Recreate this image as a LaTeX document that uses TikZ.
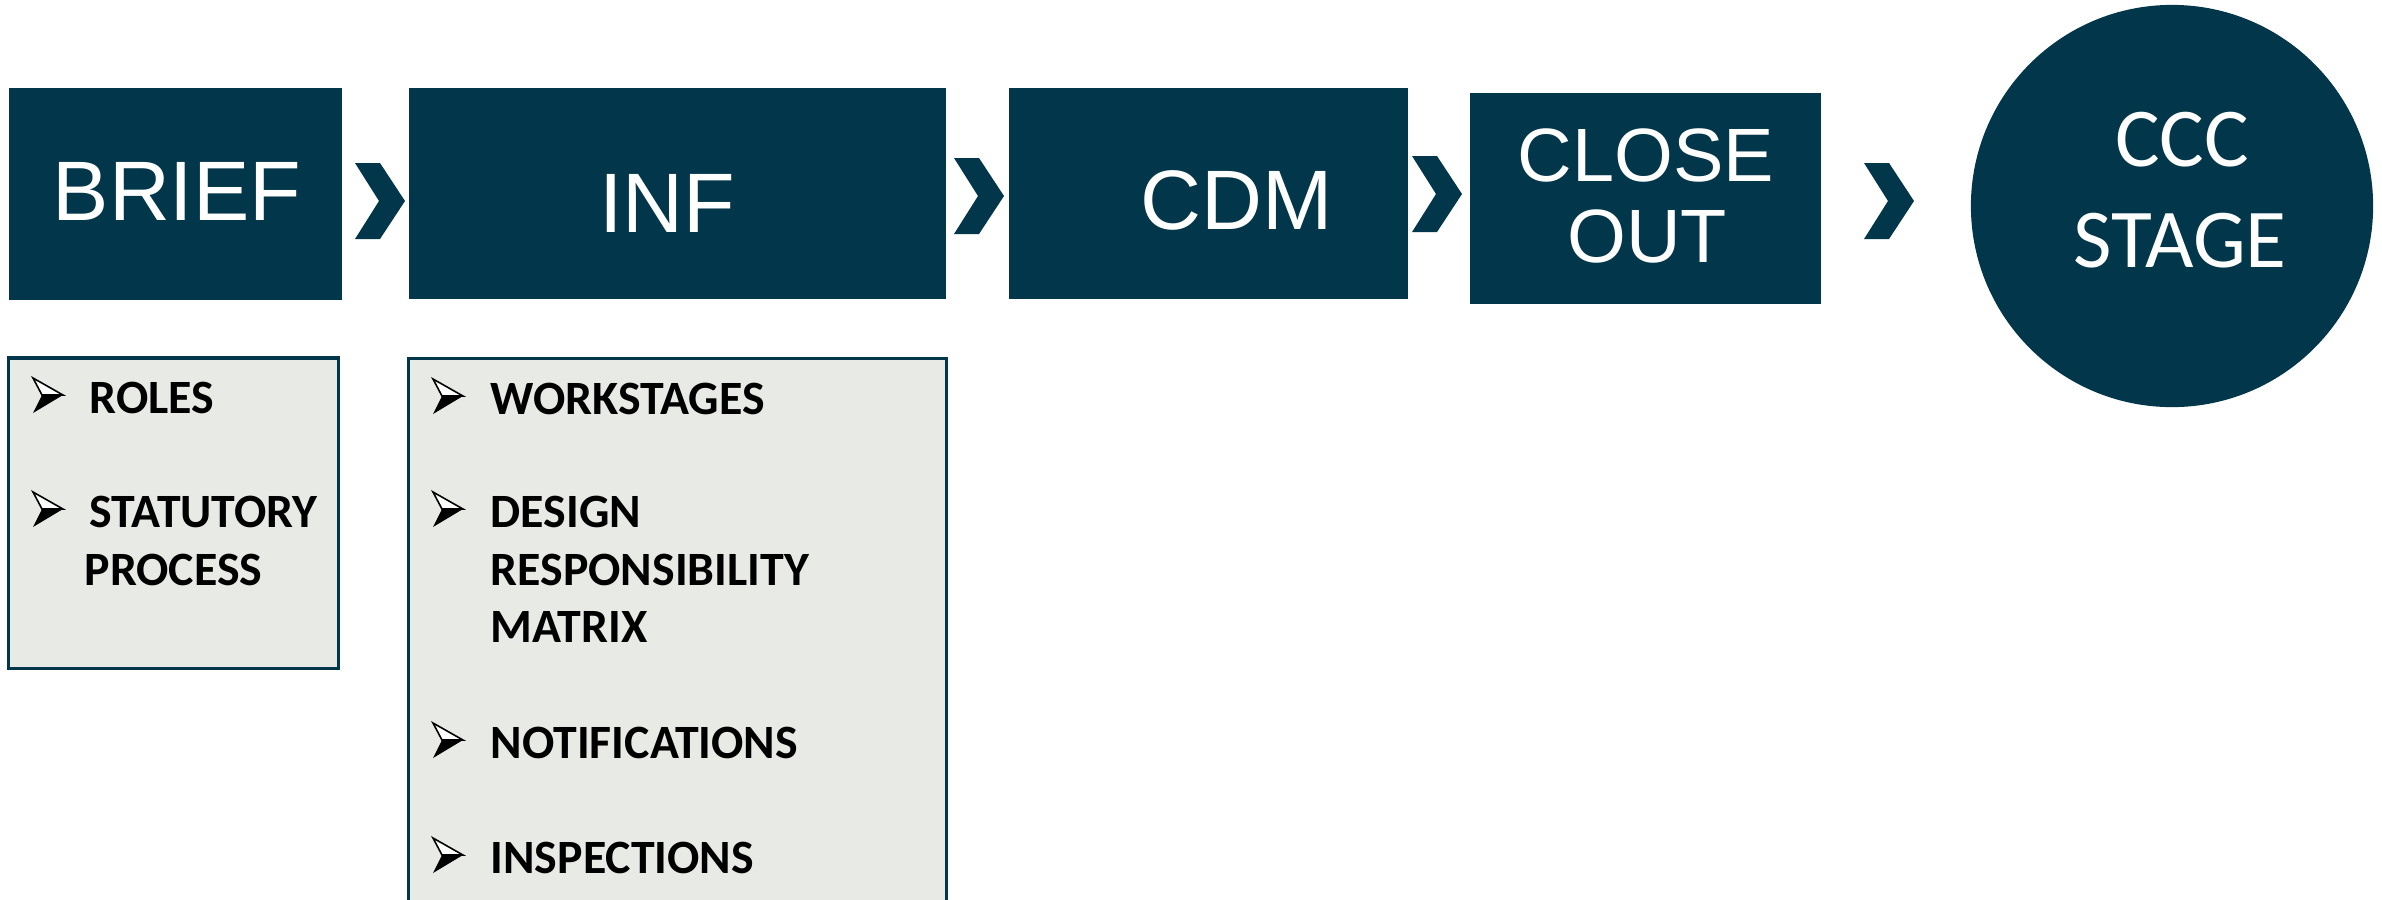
\documentclass[tikz,border=0pt]{standalone}
\usepackage{fontspec}
\newfontfamily\arialf{Liberation Sans}
\newfontfamily\calibf{Carlito}
\definecolor{teal}{HTML}{02364A}
\definecolor{panel}{HTML}{E8EAE6}
\tikzset{
  stagebox/.style={draw=none, fill=teal, inner sep=0pt, rectangle},
  stagetext/.style={text=white, inner sep=0pt, anchor=base, font=\arialf\fontsize{24}{28}\selectfont},
  closetext/.style={text=white, inner sep=0pt, anchor=base, font=\arialf\fontsize{21.5}{26}\selectfont},
  ccctext/.style={text=white, inner sep=0pt, anchor=base, font=\calibf\fontsize{23.8}{28}\selectfont},
  panelbox/.style={draw=teal, line width=0.9pt, fill=panel, inner sep=0pt, rectangle},
  itemtext/.style={text=black, inner sep=0pt, anchor=base west, font=\calibf\bfseries\fontsize{13.6}{16}\selectfont},
  chevfill/.style={fill=teal, draw=none},
  pics/chevron/.style={code={
    \fill[chevfill] (0,0) -- (25,0) -- (50,38) -- (25,76) -- (0,76) -- (24,38) -- cycle;
  }},
  pics/bulletarrow/.style={code={
    \fill[black, line join=miter] (9,-18) -- (30,-18) -- (0,0) -- cycle;
    \draw[black, line width=0.45pt, fill=white, line join=miter] (0,-35) -- (30,-18) -- (9,-18) -- cycle;
  }}
}
\begin{document}
\begin{tikzpicture}[x=0.01cm, y=-0.01cm]
\useasboundingbox (0,0) rectangle (2382,899);
% stage boxes
\node[stagebox, minimum width=3.33cm, minimum height=2.12cm] (brief) at (175.5,194) {};
\node[stagebox, minimum width=5.37cm, minimum height=2.11cm] (inf) at (677.5,193.5) {};
\node[stagebox, minimum width=3.99cm, minimum height=2.11cm] (cdm) at (1208.5,193.5) {};
\node[stagebox, minimum width=3.51cm, minimum height=2.11cm] (close) at (1645.5,198.5) {};
\node[circle, fill=teal, inner sep=0pt, minimum size=4.02cm] (ccc) at (2172,206) {};
% stage labels
\node[stagetext] (briefT) at (177,220) {BRIEF};
\node[stagetext] (infT) at (667,232) {INF};
\node[stagetext] (cdmT) at (1237,229) {CDM};
\node[closetext] (closeT1) at (1646,181) {CLOSE};
\node[closetext] (closeT2) at (1647,262) {OUT};
\node[ccctext] (cccT1) at (2182,166) {CCC};
\node[ccctext] (cccT2) at (2180,267) {STAGE};
% chevrons
\pic at (355,163) {chevron};
\pic at (954,158) {chevron};
\pic at (1412,156) {chevron};
\pic at (1864,163) {chevron};
% panels
\node[panelbox, minimum width=3.29cm, minimum height=3.10cm] (p1) at (173.5,513) {};
\node[panelbox, minimum width=5.37cm, minimum height=5.60cm] (p2) at (677.5,639) {};
% panel 1 items
\pic at (33,413) {bulletarrow};
\node[itemtext] (roles) at (89,413) {ROLES};
\pic at (33,527) {bulletarrow};
\node[itemtext] (stat1) at (89,527) {STATUTORY};
\node[itemtext] (stat2) at (84,585) {PROCESS};
% panel 2 items
\pic at (433,414) {bulletarrow};
\node[itemtext] (work) at (490,414) {WORKSTAGES};
\pic at (433,527) {bulletarrow};
\node[itemtext] (drm1) at (490,527) {DESIGN};
\node[itemtext] (drm2) at (490,585) {RESPONSIBILITY};
\node[itemtext] (drm3) at (490,642) {MATRIX};
\pic at (433,758) {bulletarrow};
\node[itemtext] (notif) at (490,758) {NOTIFICATIONS};
\pic at (433,873) {bulletarrow};
\node[itemtext] (insp) at (490,873) {INSPECTIONS};
\end{tikzpicture}
\end{document}
